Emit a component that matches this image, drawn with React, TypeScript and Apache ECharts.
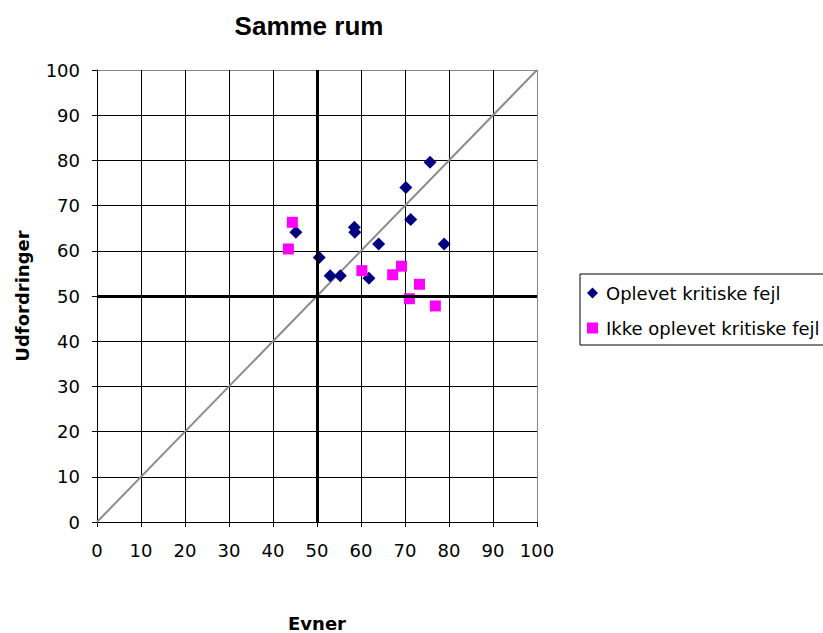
import React, { useEffect, useRef } from "react";
import * as echarts from "echarts";

const titleText = "Samme rum";
const xName = "Evner";
const yName = "Udfordringer";
const seriesNames = ["Oplevet kritiske fejl", "Ikke oplevet kritiske fejl"];

const oplevet: [number, number][] = [
  [75.7, 79.6],
  [70.2, 74.0],
  [71.3, 66.9],
  [45.2, 64.1],
  [58.5, 65.2],
  [58.6, 64.1],
  [64.0, 61.5],
  [78.9, 61.5],
  [50.5, 58.5],
  [53.0, 54.5],
  [55.3, 54.5],
  [61.8, 53.9],
];

const ikkeOplevet: [number, number][] = [
  [44.4, 66.3],
  [43.5, 60.4],
  [60.2, 55.6],
  [69.2, 56.6],
  [67.2, 54.7],
  [73.3, 52.6],
  [71.0, 49.4],
  [76.9, 47.8],
];

const diagonal: [number, number][] = [
  [0, 0],
  [100, 100],
];

const midX = 50;
const midY = 50;

export default function App() {
  const ref = useRef<HTMLDivElement>(null);
  useEffect(() => {
    if (!ref.current) return;
    const chart = echarts.init(ref.current, null, { renderer: "svg" });
    const font = "'DejaVu Sans', sans-serif";
    const titleFont = "'Liberation Sans', Arial, sans-serif";
    const splitColors = Array.from({ length: 11 }, (_, i) => (i === 10 ? "#888" : "#000"));
    chart.setOption({
      animation: false,
      backgroundColor: "#fff",
      title: {
        text: titleText,
        left: 304,
        top: 8,
        textAlign: "center",
        textStyle: { fontFamily: titleFont, fontWeight: "bold", fontSize: 26, color: "#000" },
      },
      grid: { left: 97, right: 286, top: 70, bottom: 111, containLabel: false, outerBoundsMode: "none" },
      legend: {
        data: seriesNames,
        orient: "vertical",
        left: 580,
        top: 274,
        borderColor: "#000",
        borderWidth: 1,
        padding: [10, 10, 8, 7],
        itemGap: 17,
        itemWidth: 11,
        itemHeight: 11,
        textStyle: { fontFamily: font, fontSize: 18, color: "#000", padding: [0, 0, 0, 3] },
      },
      xAxis: {
        type: "value",
        min: 0,
        max: 100,
        interval: 10,
        name: xName,
        nameLocation: "middle",
        nameGap: 92,
        nameTextStyle: { fontFamily: font, fontWeight: "bold", fontSize: 18, color: "#000" },
        axisLine: { lineStyle: { color: "#000", width: 1 } },
        axisTick: { show: true, length: 5, lineStyle: { color: "#000" } },
        axisLabel: { fontFamily: font, fontSize: 18, color: "#000", margin: 19 },
        splitLine: { show: true, lineStyle: { color: splitColors, width: 1 } },
      },
      yAxis: {
        type: "value",
        min: 0,
        max: 100,
        interval: 10,
        name: yName,
        nameLocation: "middle",
        nameGap: 66,
        nameRotate: 90,
        nameTextStyle: { fontFamily: font, fontWeight: "bold", fontSize: 18, color: "#000" },
        axisLine: { lineStyle: { color: "#000", width: 1 } },
        axisTick: { show: true, length: 5, lineStyle: { color: "#000" } },
        axisLabel: { fontFamily: font, fontSize: 18, color: "#000", margin: 17 },
        splitLine: { show: true, lineStyle: { color: splitColors, width: 1 } },
      },
      series: [
        {
          name: "diagonal",
          type: "line",
          data: diagonal,
          symbol: "none",
          silent: true,
          lineStyle: { color: "#8c8c8c", width: 2 },
          z: 1,
          markLine: {
            silent: true,
            symbol: "none",
            label: { show: false },
            lineStyle: { color: "#000", width: 3, type: "solid" },
            data: [{ xAxis: midX }, { yAxis: midY }],
          },
        },
        {
          name: seriesNames[0],
          type: "scatter",
          data: oplevet,
          symbol: "diamond",
          symbolSize: 13,
          itemStyle: { color: "#000080", opacity: 1 },
          z: 3,
        },
        {
          name: seriesNames[1],
          type: "scatter",
          data: ikkeOplevet,
          symbol: "rect",
          symbolSize: 11,
          itemStyle: { color: "#ff00ff", opacity: 1 },
          z: 4,
        },
      ],
    });
    return () => chart.dispose();
  }, []);
  return <div ref={ref} style={{ width: 823, height: 633, position: "fixed", left: 0, top: 0 }} />;
}
